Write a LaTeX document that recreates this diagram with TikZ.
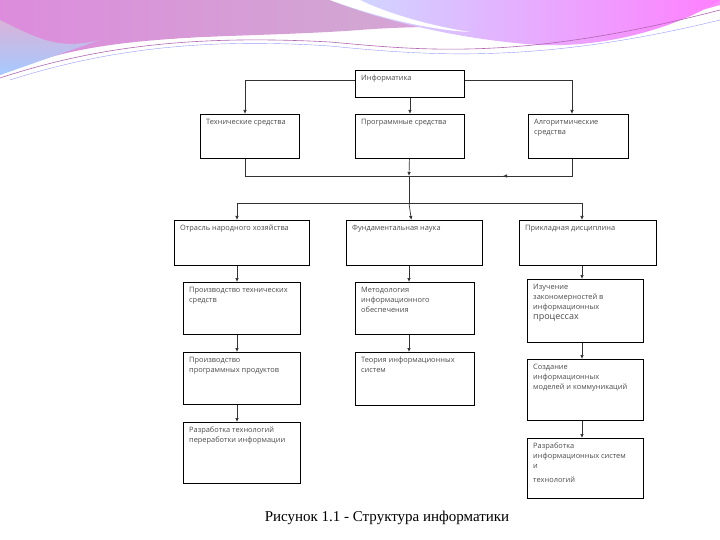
\documentclass[tikz,border=0pt]{standalone}
\usepackage{fontspec}
\setmainfont{Liberation Serif}
\newfontfamily\boxfont{Open Sans}
\begin{document}
\begin{tikzpicture}[x=1pt,y=-1pt,
  box/.style={draw=black,line width=0.9pt,fill=white,inner sep=0pt},
  lbl/.style={anchor=north west,font=\boxfont\fontsize{7.4}{10}\selectfont,text=black!70,align=left,inner sep=0pt},
  con/.style={draw=black!80,line width=0.7pt},
  arr/.style={con,-{Latex[length=4pt,width=3.5pt]}}]
\usetikzlibrary{arrows.meta}
\useasboundingbox (0,0) rectangle (720,540);
\fill[white] (0,0) rectangle (720,540);
% decorative waves
\shade[left color=magenta!40!violet!45,right color=magenta!45,middle color=violet!35]
  (0,0) -- (730,0) -- (720,5) .. controls (600,40) and (480,20) .. (360,30)
  .. controls (220,40) and (100,30) .. (0,75) -- cycle;
\shade[top color=violet!30,bottom color=cyan!40!blue!35] (0,20) .. controls (40,40) and (60,50) .. (100,40) -- (0,75) -- cycle;
\fill[white] (0,80) .. controls (100,40) and (200,30) .. (330,40) .. controls (420,48) and (520,60) .. (720,30)
  -- (720,36) .. controls (520,70) and (420,60) .. (330,48) .. controls (200,40) and (100,50) .. (0,90) -- cycle;
\shade[left color=cyan!30!blue!20,right color=magenta!50] (330,0) .. controls (380,20) and (460,40) .. (540,45)
  .. controls (620,48) and (690,20) .. (720,0) -- cycle;
\fill[white] (330,0) .. controls (380,18) and (430,30) .. (470,32) .. controls (420,24) and (380,10) .. (360,0) -- cycle;
\draw[violet!60,line width=0.6pt] (0,78) .. controls (100,45) and (200,35) .. (330,42) .. controls (420,50) and (520,62) .. (720,10);
\draw[blue!40,line width=0.4pt] (10,80) .. controls (110,48) and (210,38) .. (330,46) .. controls (430,56) and (540,64) .. (720,20);
% boxes
\node[box,minimum width=109,minimum height=27,anchor=north west] (inf) at (355,70) {};
\node[lbl] at (361,75) {Информатика};
\node[box,minimum width=99,minimum height=44,anchor=north west] (tech) at (200,114) {};
\node[lbl] at (206,119) {Технические средства};
\node[box,minimum width=109,minimum height=44,anchor=north west] (prog) at (355,114) {};
\node[lbl] at (361,119) {Программные средства};
\node[box,minimum width=100,minimum height=44,anchor=north west] (alg) at (528,114) {};
\node[lbl] at (534,119) {Алгоритмические\\средства};
\node[box,minimum width=135,minimum height=45,anchor=north west] (otr) at (174,220) {};
\node[lbl] at (180,225) {Отрасль народного хозяйства};
\node[box,minimum width=136,minimum height=45,anchor=north west] (fund) at (346,220) {};
\node[lbl] at (352,225) {Фундаментальная наука};
\node[box,minimum width=137,minimum height=45,anchor=north west] (prik) at (519,220) {};
\node[lbl] at (525,225) {Прикладная дисциплина};
\node[box,minimum width=117,minimum height=52,anchor=north west] (a1) at (183,282) {};
\node[lbl] at (189,287) {Производство технических\\средств};
\node[box,minimum width=117,minimum height=52,anchor=north west] (a2) at (183,352) {};
\node[lbl] at (189,357) {Производство\\программных продуктов};
\node[box,minimum width=117,minimum height=61,anchor=north west] (a3) at (183,422) {};
\node[lbl] at (189,427) {Разработка технологий\\переработки информации};
\node[box,minimum width=119,minimum height=52,anchor=north west] (b1) at (355,282) {};
\node[lbl] at (361,287) {Методология\\информационного\\обеспечения};
\node[box,minimum width=119,minimum height=53,anchor=north west] (b2) at (355,352) {};
\node[lbl] at (361,357) {Теория информационных\\систем};
\node[box,minimum width=116,minimum height=63,anchor=north west] (c1) at (527,279) {};
\node[lbl] at (533,284) {Изучение\\закономерностей в\\информационных\\{\fontsize{9}{11}\selectfont процессах}};
\node[box,minimum width=116,minimum height=61,anchor=north west] (c2) at (527,359) {};
\node[lbl] at (533,364) {Создание\\информационных\\моделей и коммуникаций};
\node[box,minimum width=116,minimum height=60,anchor=north west] (c3) at (527,438) {};
\node[lbl] at (533,443) {Разработка\\информационных систем\\и\\[4pt]технологий};
% connectors
\coordinate (jt) at (245,176); \coordinate (ja) at (572,176); \coordinate (jm) at (409,176);
\coordinate (ha) at (237,203); \coordinate (hb) at (409,203); \coordinate (hc) at (582,203);
\draw[arr] (inf.west |- 0,80) -| (tech.north -| jt);
\draw[arr] (inf.east |- 0,80) -| (alg.north -| ja);
\draw[arr] (inf) -- (prog);
\draw[con] (tech.south -| jt) -- (jt) -- (ja) -- (alg.south -| ja);
\draw[arr] (ja) -- (503,176);
\draw[arr] (prog) -- (jm);
\draw[con] (jm) -- (hb);
\draw[arr] (hb) -| (otr.north -| ha);
\draw[arr] (hb) -- (fund);
\draw[arr] (hb) -| (prik.north -| hc);
\draw[arr] (otr.south -| ha) -- (a1.north -| ha);
\draw[arr] (a1.south -| ha) -- (a2.north -| ha);
\draw[arr] (a2.south -| ha) -- (a3.north -| ha);
\draw[arr] (fund.south -| hb) -- (b1.north -| hb);
\draw[arr] (b1.south -| hb) -- (b2.north -| hb);
\draw[arr] (prik.south -| hc) -- (c1.north -| hc);
\draw[arr] (c1.south -| hc) -- (c2.north -| hc);
\draw[arr] (c2.south -| hc) -- (c3.north -| hc);
\node[font=\fontsize{15}{17}\selectfont] (cap) at (387,518) {Рисунок 1.1 - Структура информатики};
\end{tikzpicture}
\end{document}
